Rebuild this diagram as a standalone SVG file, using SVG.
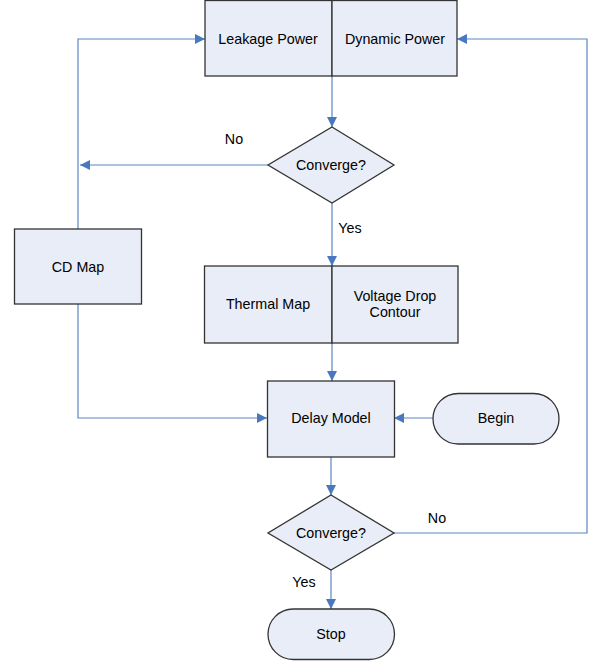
<svg xmlns="http://www.w3.org/2000/svg" width="591" height="661" viewBox="0 0 591 661">
<style>
.n{fill:#E8EDF7;stroke:#333;stroke-width:1.3}
.c{fill:none;stroke:#5B86C4;stroke-width:1.2}
text{font-family:"Liberation Sans",Arial,sans-serif;font-size:14.3px;fill:#000;text-anchor:middle}
</style>
<defs>
<marker id="a" viewBox="0 0 10 10" refX="10" refY="5" markerWidth="10" markerHeight="10" markerUnits="userSpaceOnUse" orient="auto">
<path d="M0,0 L10,5 L0,10 Z" fill="#4A78C0"/>
</marker>
</defs>
<rect width="591" height="661" fill="#fff"/>
<g id="connectors">
<path class="c" d="M332,76 V127" marker-end="url(#a)"/>
<path class="c" d="M332,203 V266" marker-end="url(#a)"/>
<path class="c" d="M268,165 H80" marker-end="url(#a)"/>
<path class="c" d="M78,229 V39 H205" marker-end="url(#a)"/>
<path class="c" d="M78,304 V418 H267" marker-end="url(#a)"/>
<path class="c" d="M332,343 V381" marker-end="url(#a)"/>
<path class="c" d="M433,418 H394" marker-end="url(#a)"/>
<path class="c" d="M331,457 V495" marker-end="url(#a)"/>
<path class="c" d="M394,533 H587 V39 H457" marker-end="url(#a)"/>
<path class="c" d="M331,570 V609" marker-end="url(#a)"/>
<text x="234" y="144">No</text>
<text x="350" y="233">Yes</text>
<text x="437" y="523">No</text>
<text x="304" y="587">Yes</text>
</g>
<g id="leakage"><rect class="n" x="205" y="0.5" width="127" height="75.5"/><text x="268" y="44">Leakage Power</text></g>
<g id="dynamic"><rect class="n" x="332" y="0.5" width="125" height="75.5"/><text x="395" y="44">Dynamic Power</text></g>
<g id="converge1"><polygon class="n" points="332,127 394,165 332,203 268,165"/><text x="331" y="170">Converge?</text></g>
<g id="cdmap"><rect class="n" x="14.5" y="229" width="127" height="75"/><text x="78" y="272">CD Map</text></g>
<g id="thermal"><rect class="n" x="204.5" y="266" width="127.5" height="77"/><text x="268" y="309">Thermal Map</text></g>
<g id="voltage"><rect class="n" x="332" y="266" width="126" height="77"/><text x="395" y="301">Voltage Drop</text><text x="395" y="317">Contour</text></g>
<g id="delay"><rect class="n" x="267.5" y="381" width="127" height="76"/><text x="331" y="423">Delay Model</text></g>
<g id="begin"><rect class="n" x="433" y="393.5" width="126" height="50.5" rx="25.25"/><text x="496" y="423">Begin</text></g>
<g id="converge2"><polygon class="n" points="331,495 394,533 331,570 268,533"/><text x="331" y="538">Converge?</text></g>
<g id="stop"><rect class="n" x="268" y="609" width="126.5" height="50.5" rx="25.25"/><text x="331" y="639">Stop</text></g>
</svg>
